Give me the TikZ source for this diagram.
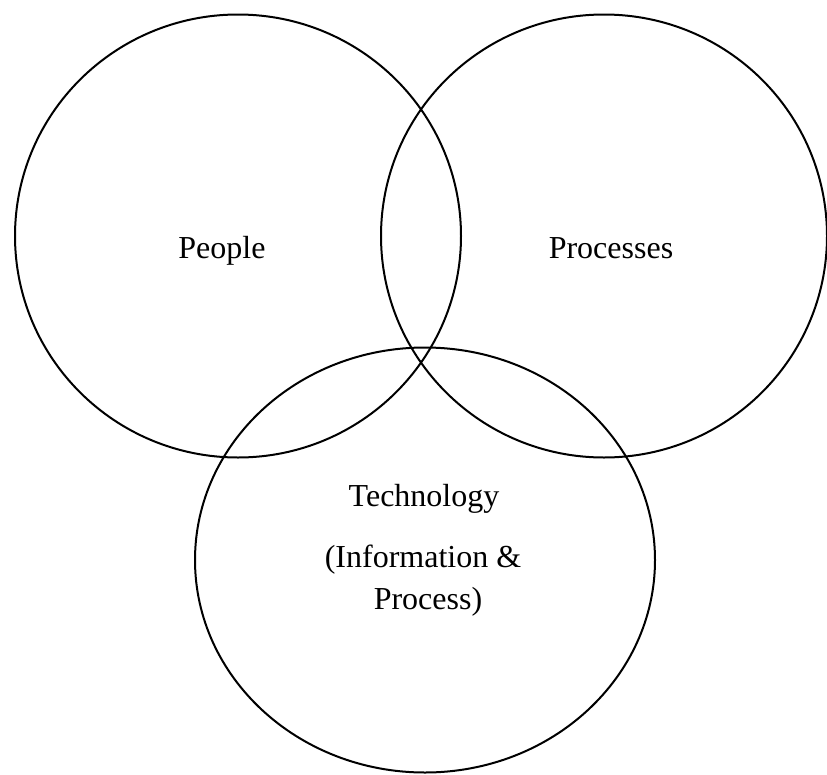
\documentclass[tikz,border=0pt]{standalone}
\usepackage{fontspec}
\setmainfont{Liberation Serif}
\usetikzlibrary{shapes.geometric}

\begin{document}
\begin{tikzpicture}[
      x=1pt, y=-1pt,
      myset/.style={
         ellipse,
         draw=black,
         line width=2pt,
         inner sep=0pt},
      mylabel/.style={
         anchor=base,
         inner sep=0pt,
         font=\fontsize{32}{38}\selectfont}
      ]
      \useasboundingbox (0,0) rectangle (827,774);

      % the three sets
      \node[myset,minimum width=446pt,minimum height=443pt] (people) at (238,236) {};
      \node[myset,minimum width=446pt,minimum height=443pt] (processes) at (604,236) {};
      \node[myset,minimum width=460pt,minimum height=425pt] (technology) at (425,560) {};

    \foreach \n/\x/\y/\txt in {% name/x/y/text
      tPeople/222/258/{People},
      tProcesses/611/258/{Processes},
      tTechnology/424/506/{Technology},
      tInformation/423/567/{(Information \&},
      tProcess/428/609/{Process)}}
       \node[mylabel] (\n) at (\x,\y) {\txt};

    \end{tikzpicture}
\end{document}
